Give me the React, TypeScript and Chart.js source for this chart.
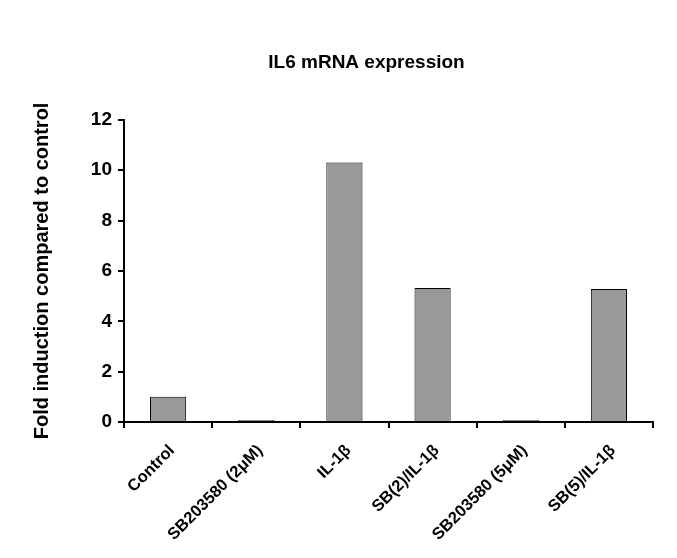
import React, { useEffect, useRef } from "react";
import { Chart, registerables } from "chart.js";

Chart.register(...registerables);

const categories = [
  "Control",
  "SB203580 (2\u03bcM)",
  "IL-1\u03b2",
  "SB(2)/IL-1\u03b2",
  "SB203580 (5\u03bcM)",
  "SB(5)/IL-1\u03b2",
];
const values = [1.0, 0.08, 10.3, 5.32, 0.08, 5.28];
const yTicks = [0, 2, 4, 6, 8, 10, 12];

const FONT = "'Liberation Sans', Arial, sans-serif";

const shiftTitle = {
  id: "shiftTitle",
  afterLayout(chart: any) {
    if (chart.titleBlock) {
      chart.titleBlock.left += 72;
    }
  },
};

export default function App() {
  const ref = useRef<HTMLCanvasElement>(null);
  useEffect(() => {
    if (!ref.current) return;
    const chart = new Chart(ref.current, {
      type: "bar",
      plugins: [shiftTitle],
      data: {
        labels: categories,
        datasets: [
          {
            data: values,
            backgroundColor: "#999999",
            borderColor: "#000000",
            borderWidth: 1,
            barPercentage: 0.41,
            categoryPercentage: 1,
          },
        ],
      },
      options: {
        animation: false,
        responsive: false,
        layout: { padding: { left: 0, right: 16, top: 0, bottom: 0 } },
        plugins: {
          legend: { display: false },
          tooltip: { enabled: false },
          title: {
            display: true,
            text: "IL6 mRNA expression",
            color: "#000",
            font: { family: FONT, size: 19, weight: "bold" },
            padding: { top: 43, bottom: 46 },
          },
        },
        scales: {
          x: {
            grid: {
              display: true,
              offset: true,
              drawOnChartArea: false,
              drawTicks: true,
              tickLength: 6,
              color: "#000",
              lineWidth: 2,
            },
            border: { color: "#000", width: 2 },
            ticks: {
              color: "#000",
              font: { family: FONT, size: 16.5, weight: "bold" },
              minRotation: 45,
              maxRotation: 45,
              padding: 13,
              labelOffset: 4,
            },
            afterFit: (s: any) => {
              s.height = 128;
            },
          },
          y: {
            min: 0,
            max: 12,
            afterBuildTicks: (s: any) => {
              s.ticks = yTicks.map((v) => ({ value: v }));
            },
            grid: {
              display: true,
              drawOnChartArea: false,
              drawTicks: true,
              tickLength: 6,
              color: "#000",
              lineWidth: 2,
            },
            border: { color: "#000", width: 2 },
            ticks: {
              color: "#000",
              font: { family: FONT, size: 19, weight: "bold" },
              padding: 6,
            },
            title: {
              display: true,
              text: "Fold induction compared to control",
              color: "#000",
              font: { family: FONT, size: 20, weight: "bold" },
              padding: { top: 22, bottom: 0 },
            },
            afterFit: (s: any) => {
              s.width = 116;
            },
          },
        },
      },
    });
    return () => chart.destroy();
  }, []);
  return (
    <div style={{ width: 661, height: 542 }}>
      <canvas ref={ref} width={661} height={542} style={{ display: "block" }} />
    </div>
  );
}
